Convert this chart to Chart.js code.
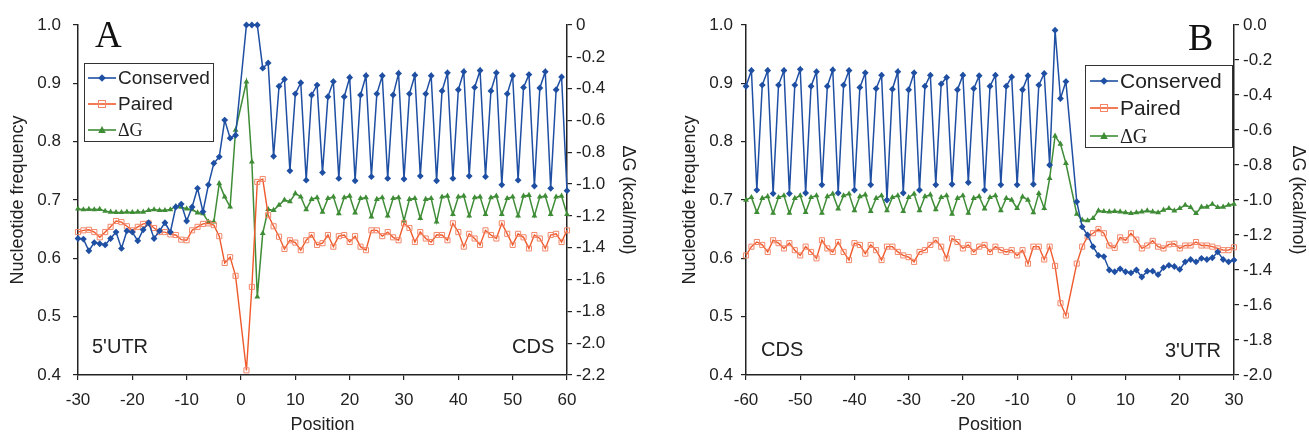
<!DOCTYPE html>
<html>
<head>
<meta charset="utf-8">
<script src="https://cdn.jsdelivr.net/npm/chart.js@4.4.1/dist/chart.umd.min.js"></script>
<style>
  html, body { margin: 0; padding: 0; background: #fff; }
  #wrap { position: relative; width: 1309px; height: 437px; overflow: hidden; font-family: "Liberation Sans", Arial, sans-serif; color: #222; }
  canvas { position: absolute; top: 0; }
  #cA { left: 0; }
  #cB { left: 654px; }
  .tag { position: absolute; font-family: "Liberation Serif", "Times New Roman", serif; line-height: 1; color: #111; }
  .note { position: absolute; font-size: 20px; line-height: 1; color: #222; }
  .legend { position: absolute; border: 1.5px solid #333; background: #fff; box-sizing: border-box; }
  .legend .row { position: absolute; display: flex; align-items: center; height: 24px; white-space: nowrap; }
  .legend svg { display: block; }
  .legend .serif { font-family: "Liberation Serif", "Times New Roman", serif; }
</style>
</head>
<body>
<div id="wrap">
  <canvas id="cA" width="654" height="437"></canvas>
  <canvas id="cB" width="655" height="437"></canvas>
  <div class="tag" style="left:95px;top:16px;font-size:37px">A</div>
  <div class="tag" style="left:1188px;top:18px;font-size:38px">B</div>
  <div class="note" style="left:92px;top:336px">5'UTR</div>
  <div class="note" style="left:512px;top:336px">CDS</div>
  <div class="note" style="left:761px;top:339px">CDS</div>
  <div class="note" style="left:1165px;top:340px">3'UTR</div>
  <div class="legend" id="legA" style="left:84px;top:63px;width:130px;height:79px"></div>
  <div class="legend" id="legB" style="left:1085px;top:65px;width:148px;height:83px"></div>
</div>
<script>
(function () {
  // ---- data ----
  const posA = [-30,-29,-28,-27,-26,-25,-24,-23,-22,-21,-20,-19,-18,-17,-16,-15,-14,-13,-12,-11,
    -10,-9,-8,-7,-6,-5,-4,-3,-2,-1,1,2,3,4,5,6,7,8,9,10,11,12,13,14,15,16,17,18,19,20,
    21,22,23,24,25,26,27,28,29,30,31,32,33,34,35,36,37,38,39,40,41,42,43,44,45,46,47,48,49,50,
    51,52,53,54,55,56,57,58,59,60];
  const consA = [0.634,0.633,0.613,0.627,0.625,0.623,0.634,0.645,0.617,0.647,
    0.645,0.630,0.649,0.661,0.634,0.647,0.661,0.645,0.688,0.693,
    0.664,0.688,0.720,0.680,0.726,0.763,0.774,0.837,0.806,0.811,
    1.000,1.000,1.000,0.926,0.935,0.775,0.895,0.907,0.750,0.882,
    0.901,0.734,0.880,0.897,0.747,0.877,0.903,0.737,0.877,0.910,
    0.733,0.880,0.913,0.740,0.882,0.913,0.737,0.880,0.917,0.736,
    0.882,0.914,0.741,0.882,0.913,0.733,0.887,0.918,0.737,0.889,
    0.920,0.741,0.893,0.922,0.740,0.887,0.918,0.726,0.882,0.913,
    0.734,0.893,0.915,0.724,0.892,0.920,0.720,0.889,0.911,0.716];
  const pairA = [0.645,0.648,0.649,0.645,0.636,0.645,0.654,0.664,0.662,0.655,
    0.648,0.654,0.659,0.660,0.652,0.645,0.645,0.641,0.640,0.632,
    0.631,0.648,0.654,0.659,0.660,0.657,0.638,0.592,0.602,0.570,
    0.408,0.551,0.731,0.736,0.674,0.655,0.637,0.616,0.631,0.627,
    0.614,0.631,0.640,0.623,0.626,0.640,0.620,0.638,0.640,0.628,
    0.638,0.620,0.614,0.648,0.648,0.638,0.645,0.636,0.631,0.660,
    0.652,0.628,0.645,0.634,0.628,0.640,0.640,0.631,0.660,0.645,
    0.620,0.642,0.634,0.623,0.648,0.640,0.634,0.660,0.642,0.623,
    0.642,0.636,0.617,0.640,0.634,0.617,0.640,0.642,0.628,0.648];
  const dgA = [-1.156,-1.160,-1.158,-1.160,-1.158,-1.170,-1.175,-1.178,-1.178,-1.175,
    -1.178,-1.175,-1.175,-1.165,-1.160,-1.165,-1.165,-1.160,-1.140,-1.145,
    -1.155,-1.160,-1.180,-1.185,-1.237,-1.237,-0.996,-1.080,-1.143,-0.660,
    -0.357,-0.860,-1.709,-1.310,-1.159,-1.164,-1.132,-1.100,-1.110,-1.059,
    -1.080,-1.160,-1.095,-1.085,-1.175,-1.090,-1.080,-1.185,-1.085,-1.075,
    -1.180,-1.090,-1.085,-1.205,-1.095,-1.085,-1.200,-1.090,-1.085,-1.230,
    -1.095,-1.090,-1.215,-1.095,-1.090,-1.237,-1.080,-1.075,-1.190,-1.080,
    -1.075,-1.200,-1.085,-1.080,-1.190,-1.085,-1.075,-1.190,-1.090,-1.080,
    -1.200,-1.075,-1.070,-1.200,-1.080,-1.075,-1.190,-1.080,-1.075,-1.190];

  const posB = [-60,-59,-58,-57,-56,-55,-54,-53,-52,-51,-50,-49,-48,-47,-46,-45,-44,-43,-42,-41,
    -40,-39,-38,-37,-36,-35,-34,-33,-32,-31,-30,-29,-28,-27,-26,-25,-24,-23,-22,-21,
    -20,-19,-18,-17,-16,-15,-14,-13,-12,-11,-10,-9,-8,-7,-6,-5,-4,-3,-2,-1,
    1,2,3,4,5,6,7,8,9,10,11,12,13,14,15,16,17,18,19,20,21,22,23,24,25,26,27,28,29,30];
  const consB = [0.895,0.922,0.717,0.897,0.922,0.711,0.897,0.922,0.711,0.897,
    0.924,0.712,0.895,0.920,0.726,0.895,0.923,0.712,0.897,0.922,
    0.717,0.893,0.918,0.726,0.891,0.914,0.700,0.890,0.920,0.712,
    0.889,0.918,0.717,0.895,0.914,0.726,0.899,0.910,0.727,0.889,
    0.914,0.730,0.891,0.913,0.717,0.895,0.914,0.726,0.895,0.911,
    0.726,0.889,0.913,0.727,0.897,0.917,0.760,0.991,0.874,0.903,
    0.697,0.654,0.640,0.620,0.605,0.603,0.580,0.577,0.582,0.577,
    0.575,0.580,0.568,0.578,0.578,0.572,0.584,0.588,0.586,0.581,
    0.594,0.598,0.594,0.600,0.598,0.601,0.611,0.598,0.594,0.597];
  const pairB = [0.605,0.620,0.628,0.623,0.611,0.631,0.626,0.617,0.626,0.614,
    0.605,0.620,0.611,0.600,0.631,0.617,0.611,0.628,0.611,0.597,
    0.626,0.623,0.608,0.623,0.614,0.597,0.620,0.620,0.611,0.605,
    0.602,0.594,0.611,0.614,0.623,0.631,0.620,0.600,0.634,0.628,
    0.617,0.623,0.611,0.620,0.623,0.611,0.620,0.614,0.611,0.614,
    0.605,0.614,0.591,0.620,0.620,0.598,0.620,0.587,0.523,0.502,
    0.591,0.620,0.637,0.643,0.650,0.643,0.622,0.618,0.636,0.631,
    0.643,0.632,0.617,0.622,0.630,0.620,0.617,0.624,0.625,0.617,
    0.622,0.622,0.628,0.622,0.622,0.620,0.617,0.614,0.614,0.619];
  const dgB = [-1.000,-0.985,-1.070,-0.990,-0.980,-1.075,-0.985,-0.975,-1.075,-0.990,
    -0.975,-1.070,-0.985,-0.975,-1.075,-0.980,-0.965,-1.050,-0.975,-0.965,
    -1.060,-0.980,-0.970,-1.065,-0.990,-0.975,-1.060,-0.985,-0.975,-1.065,
    -0.985,-0.965,-1.060,-0.980,-0.970,-1.055,-0.985,-0.975,-1.080,-0.990,
    -0.975,-1.075,-0.990,-0.980,-1.050,-0.985,-0.975,-1.060,-0.990,-1.000,
    -1.048,-0.981,-1.000,-1.072,-0.962,-1.048,-0.876,-0.634,-0.680,-0.790,
    -1.080,-1.114,-1.118,-1.105,-1.061,-1.065,-1.067,-1.065,-1.067,-1.072,
    -1.076,-1.072,-1.067,-1.061,-1.067,-1.072,-1.057,-1.048,-1.061,-1.048,
    -1.029,-1.042,-1.076,-1.040,-1.040,-1.023,-1.042,-1.040,-1.029,-1.023];

  const xTicksA = [-30,-20,-10,0,10,20,30,40,50,60];
  const xTicksB = [-60,-50,-40,-30,-20,-10,0,10,20,30];
  const yTicksL = [0.4,0.5,0.6,0.7,0.8,0.9,1.0];
  const yTicksRA = [-2.2,-2.0,-1.8,-1.6,-1.4,-1.2,-1.0,-0.8,-0.6,-0.4,-0.2,0];
  const yTicksRB = [-2.0,-1.8,-1.6,-1.4,-1.2,-1.0,-0.8,-0.6,-0.4,-0.2,0];

  const seriesNames = ["Conserved", "Paired", "\u0394G"];
  const BLUE = "#1f4fa3", RED = "#ef5a2c", RED_MK = "#f2876a", GREEN = "#3f8c36";

  Chart.defaults.font.family = '"Liberation Sans", Arial, sans-serif';
  Chart.defaults.font.size = 17;
  Chart.defaults.color = "#222";

  const pts = (xs, ys) => xs.map((x, i) => ({ x, y: ys[i] }));
  const fixTicks = (arr) => (s) => { s.ticks = arr.map(v => ({ value: v })); };
  const fmt1 = (v) => (Math.abs(v) < 1e-9 ? 0 : v).toFixed(1);

  function axisBase() {
    return {
      grid: { drawOnChartArea: false, drawTicks: true, tickLength: 5, color: "#222", lineWidth: 1.2 },
      border: { display: true, color: "#222", width: 1.5 },
    };
  }

  function panel(id, g) {
    return new Chart(document.getElementById(id), {
      type: "line",
      data: {
        datasets: [
          { label: seriesNames[0], data: pts(g.pos, g.cons), yAxisID: "y", borderColor: BLUE, backgroundColor: BLUE,
            borderWidth: 1.5, pointStyle: "rectRot", pointRadius: 3.4, pointBorderWidth: 0, clip: false },
          { label: seriesNames[1], data: pts(g.pos, g.pair), yAxisID: "y", borderColor: RED, backgroundColor: "rgba(255,255,255,0)",
            pointBorderColor: RED_MK, borderWidth: 1.4, pointStyle: "rect", pointRadius: 3.6, pointBorderWidth: 1, clip: false },
          { label: seriesNames[2], data: pts(g.pos, g.dg), yAxisID: "y2", borderColor: GREEN, backgroundColor: GREEN,
            borderWidth: 1.5, pointStyle: "triangle", pointRadius: 3.4, pointBorderWidth: 0, clip: false },
        ],
      },
      options: {
        responsive: false,
        animation: false,
        layout: { padding: { top: 25, left: 0, right: 0, bottom: 0 } },
        plugins: { legend: { display: false }, tooltip: { enabled: false } },
        scales: {
          x: Object.assign(axisBase(), {
            type: "linear", min: g.xTicks[0], max: g.xTicks[g.xTicks.length - 1],
            afterBuildTicks: fixTicks(g.xTicks),
            afterFit: (s) => { s.height = 62; },
            ticks: { padding: 10, maxRotation: 0, autoSkip: false },
            title: { display: true, text: "Position", font: { size: 18 }, padding: { top: 0, bottom: 1 } },
          }),
          y: Object.assign(axisBase(), {
            position: "left", min: 0.4, max: 1.0,
            afterBuildTicks: fixTicks(yTicksL),
            afterFit: (s) => { s.width = g.leftW; },
            ticks: { padding: g.leftPad, callback: fmt1 },
            title: { display: true, text: "Nucleotide frequency", font: { size: 18 }, padding: { top: g.leftTitle, bottom: 0 } },
          }),
          y2: Object.assign(axisBase(), {
            position: "right", min: g.rTicks[0], max: 0,
            afterBuildTicks: fixTicks(g.rTicks),
            afterFit: (s) => { s.width = g.rightW; },
            ticks: { padding: 4, callback: g.rFmt },
            title: { display: true, text: "\u0394G (kcal/mol)", font: { size: 18 }, padding: { top: g.rightTitle, bottom: 0 } },
          }),
        },
      },
    });
  }

  panel("cA", { pos: posA, cons: consA, pair: pairA, dg: dgA, xTicks: xTicksA, rTicks: yTicksRA,
    rFmt: (v) => (Math.abs(v) < 1e-9 ? "0" : v.toFixed(1)),
    leftW: 78, rightW: 87, leftPad: 12, leftTitle: 7, rightTitle: 15 });
  panel("cB", { pos: posB, cons: consB, pair: pairB, dg: dgB, xTicks: xTicksB, rTicks: yTicksRB,
    rFmt: fmt1, leftW: 92, rightW: 75, leftPad: 8, leftTitle: 25, rightTitle: 0 });

  // legends
  const swatches = [
    `<line x1="0" y1="7" x2="28" y2="7" stroke="${BLUE}" stroke-width="1.6"/><polygon points="14,3.2 17.8,7 14,10.8 10.2,7" fill="${BLUE}"/>`,
    `<line x1="0" y1="7" x2="28" y2="7" stroke="${RED}" stroke-width="1.6"/><rect x="10.5" y="3.5" width="7" height="7" fill="none" stroke="${RED_MK}" stroke-width="1"/>`,
    `<line x1="0" y1="7" x2="28" y2="7" stroke="${GREEN}" stroke-width="1.6"/><polygon points="14,3 17.8,10 10.2,10" fill="${GREEN}"/>`,
  ];
  function legend(id, o) {
    const box = document.getElementById(id);
    seriesNames.forEach((name, i) => {
      const row = document.createElement("div");
      row.className = "row";
      row.style.left = o.x + "px";
      row.style.top = (o.rows[i] - 12) + "px";
      const serif = i === 2;
      row.innerHTML = `<svg width="28" height="14">${swatches[i]}</svg>` +
        `<span class="${serif ? "serif" : ""}" style="margin-left:${o.gap}px;font-size:${serif ? o.serifSize : o.size}px">${name}</span>`;
      box.appendChild(row);
    });
  }
  legend("legA", { x: 3, gap: 2, rows: [14, 40, 66], size: 19, serifSize: 18 });
  legend("legB", { x: 4, gap: 2, rows: [15, 42, 70], size: 21, serifSize: 20 });
})();
</script>
</body>
</html>
